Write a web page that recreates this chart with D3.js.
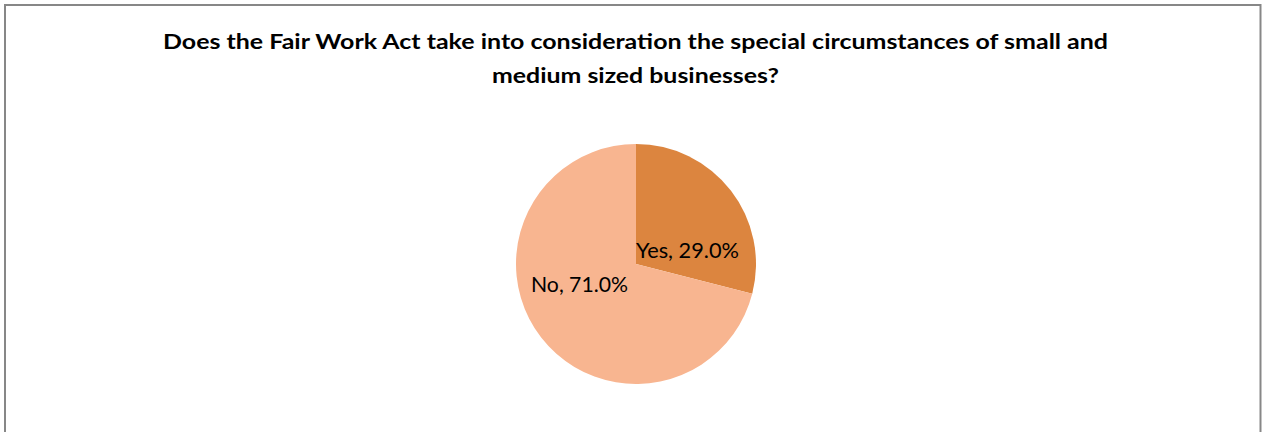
<!DOCTYPE html>
<html>
<head>
<meta charset="utf-8">
<script src="https://cdn.jsdelivr.net/npm/d3@7"></script>
<style>
  html, body { margin: 0; padding: 0; background: #fff; }
  svg { display: block; }
</style>
</head>
<body>
<div id="chart"></div>
<script>
// Survey answers and their shares (percent)
const categories = ["Yes", "No"];
const shares = [29.0, 71.0];
const sliceColors = ["#DC853F", "#F8B590"];
const titleLines = [
  "Does the Fair Work Act take into consideration the special circumstances of small and",
  "medium sized businesses?"
];

const W = 1266, H = 432;
const svg = d3.select("#chart").append("svg")
  .attr("width", W).attr("height", H);

svg.append("rect")
  .attr("x", 5).attr("y", 5)
  .attr("width", W - 10.5).attr("height", H + 20)
  .attr("fill", "#fff")
  .attr("stroke", "#878787")
  .attr("stroke-width", 2);

// Title
const titleWidths = [945, 287];
svg.append("g").selectAll("text")
  .data(titleLines)
  .join("text")
  .attr("x", 635.5)
  .attr("y", (d, i) => 49 + i * 34)
  .attr("text-anchor", "middle")
  .attr("font-family", "Lato, 'Open Sans', sans-serif")
  .attr("font-weight", "bold")
  .attr("font-size", 20.5)
  .attr("fill", "#000")
  .attr("textLength", (d, i) => titleWidths[i])
  .attr("lengthAdjust", "spacingAndGlyphs")
  .text(d => d);

// Pie
const cx = 636, cy = 264, radius = 120;
const data = categories.map((c, i) => ({ category: c, value: shares[i], color: sliceColors[i] }));

const pie = d3.pie().value(d => d.value).sort(null);
const arc = d3.arc().innerRadius(0).outerRadius(radius);
const arcs = pie(data);

const g = svg.append("g").attr("transform", `translate(${cx},${cy})`);
g.selectAll("path")
  .data(arcs)
  .join("path")
  .attr("d", arc)
  .attr("fill", d => d.data.color);

// Data labels, placed inside each slice near the centre
const labelSpec = {
  Yes: { dx: 0, dy: -6, anchor: "start", width: 103 },
  No:  { dx: -8, dy: 28, anchor: "end", width: 97 }
};
g.selectAll("text.lbl")
  .data(arcs)
  .join("text")
  .attr("class", "lbl")
  .attr("x", d => labelSpec[d.data.category].dx)
  .attr("y", d => labelSpec[d.data.category].dy)
  .attr("text-anchor", d => labelSpec[d.data.category].anchor)
  .attr("font-family", "Lato, 'Open Sans', sans-serif")
  .attr("font-size", 21.5)
  .attr("fill", "#000")
  .attr("textLength", d => labelSpec[d.data.category].width)
  .attr("lengthAdjust", "spacingAndGlyphs")
  .text(d => `${d.data.category}, ${d.data.value.toFixed(1)}%`);
</script>
</body>
</html>
